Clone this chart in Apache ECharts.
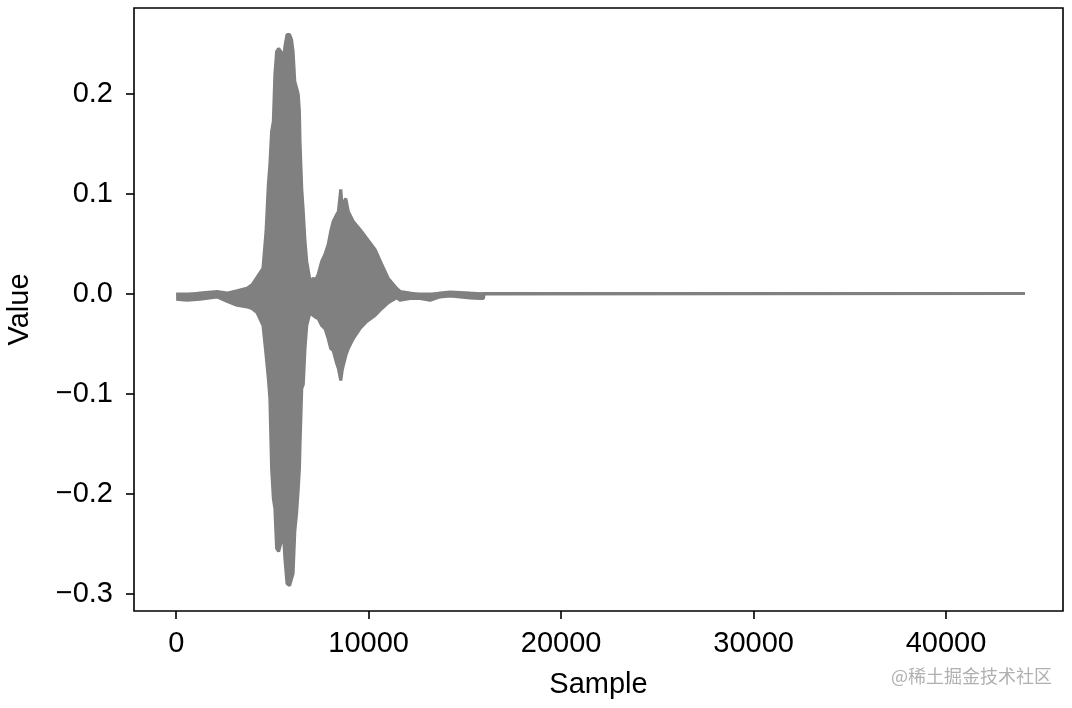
<!DOCTYPE html>
<html>
<head>
<meta charset="utf-8">
<script src="https://cdn.jsdelivr.net/npm/echarts@6/dist/echarts.min.js"></script>
<style>
html,body{margin:0;padding:0;background:#fff;}
#chart{width:1072px;height:708px;}
</style>
</head>
<body>
<div id="chart"></div>
<script>
// Waveform envelope: sample index, upper edge, lower edge
const samples = [0, 560, 1240, 2120, 2640, 3160, 3680, 3940, 4200, 4510, 4670, 4790, 4870, 4960, 5050, 5130, 5220, 5320, 5420, 5500, 5580, 5650, 5760, 5890, 5990, 6070, 6160, 6260, 6340, 6400, 6430, 6520, 6600, 6690, 6780, 6950, 7120, 7260, 7380, 7560, 7730, 7900, 8030, 8160, 8340, 8430, 8550, 8620, 8680, 8810, 8940, 9200, 9550, 9900, 10330, 10680, 11020, 11460, 11630, 12150, 12670, 13190, 13710, 14230, 14750, 15270, 15790, 15960, 16000, 44099];
const upper = [-0.0013, -0.0013, 0.0003, 0.002, 0.0003, 0.0027, 0.0053, 0.0087, 0.016, 0.025, 0.062, 0.109, 0.129, 0.162, 0.172, 0.219, 0.242, 0.245, 0.246, 0.240, 0.235, 0.247, 0.259, 0.259, 0.254, 0.242, 0.212, 0.205, 0.199, 0.182, 0.152, 0.105, 0.082, 0.052, 0.032, 0.013, 0.015, 0.014, 0.019, 0.032, 0.039, 0.049, 0.062, 0.072, 0.079, 0.082, 0.104, 0.087, 0.085, 0.095, 0.082, 0.072, 0.064, 0.055, 0.044, 0.029, 0.015, 0.005, 0.002, 0.0003, -0.0013, -0.0013, 0.0003, 0.0013, 0.001, 0.0003, -0.0003, -0.0003, 0, 0];
const lower = [-0.0057, -0.0067, -0.0057, -0.0033, -0.0077, -0.0117, -0.0133, -0.015, -0.019, -0.0317, -0.061, -0.085, -0.105, -0.175, -0.205, -0.215, -0.255, -0.258, -0.258, -0.245, -0.242, -0.265, -0.290, -0.292, -0.290, -0.280, -0.238, -0.218, -0.195, -0.175, -0.152, -0.095, -0.091, -0.055, -0.032, -0.019, -0.022, -0.024, -0.025, -0.032, -0.035, -0.045, -0.055, -0.057, -0.070, -0.075, -0.087, -0.077, -0.072, -0.062, -0.055, -0.045, -0.035, -0.028, -0.022, -0.015, -0.009, -0.004, -0.0067, -0.005, -0.005, -0.0067, -0.0033, -0.0023, -0.0033, -0.0043, -0.005, -0.005, 0, 0];
const xTicks = [0, 10000, 20000, 30000, 40000];
const yTicks = [-0.3, -0.2, -0.1, 0.0, 0.1, 0.2];
const xTitle = 'Sample';
const yTitle = 'Value';
const watermark = '@稀土掘金技术社区';

const FONT = 'Liberation Sans';
const GRAY = '#808080';
const upperData = samples.map((s, i) => [s, upper[i]]);
const lowerData = samples.map((s, i) => [s, lower[i]]);

const chart = echarts.init(document.getElementById('chart'), null, {renderer: 'canvas'});
const fmtY = v => (v < 0 ? '\u2212' : '') + Math.abs(v).toFixed(1);

chart.setOption({
  animation: false,
  backgroundColor: '#fff',
  grid: {left: 134, top: 8, width: 929, height: 603, containLabel: false, outerBoundsMode: 'none',
         show: true, borderColor: '#000', borderWidth: 1.6, backgroundColor: 'transparent'},
  xAxis: {
    type: 'value', min: -2193, max: 46078,
    name: xTitle, nameLocation: 'middle', nameGap: 59,
    nameTextStyle: {fontFamily: FONT, fontSize: 29, color: '#000'},
    axisLine: {show: false, onZero: false},
    splitLine: {show: false},
    axisTick: {show: true, length: 8, lineStyle: {color: '#000', width: 1.6}, customValues: xTicks},
    axisLabel: {customValues: xTicks, margin: 18, fontFamily: FONT, fontSize: 29, color: '#000', formatter: v => String(v)}
  },
  yAxis: {
    type: 'value', min: -0.3175, max: 0.2855,
    name: yTitle, nameLocation: 'middle', nameGap: 100, nameRotate: 90,
    nameTextStyle: {fontFamily: FONT, fontSize: 29, color: '#000'},
    axisLine: {show: false, onZero: false},
    splitLine: {show: false},
    axisTick: {show: true, length: 8, lineStyle: {color: '#000', width: 1.6}, customValues: yTicks},
    axisLabel: {customValues: yTicks, margin: 21, fontFamily: FONT, fontSize: 29, color: '#000', formatter: fmtY}
  },
  series: [
    {
      type: 'line', name: 'upper', data: upperData, showSymbol: false, symbol: 'none',
      lineStyle: {color: GRAY, width: 3.2}, areaStyle: {color: GRAY, opacity: 1, origin: -0.001},
      itemStyle: {color: GRAY}, z: 2
    },
    {
      type: 'line', name: 'lower', data: lowerData, showSymbol: false, symbol: 'none',
      lineStyle: {color: GRAY, width: 3.2}, areaStyle: {color: GRAY, opacity: 1, origin: 0.001},
      itemStyle: {color: GRAY}, z: 2
    }
  ],
  graphic: [{
    type: 'text', right: 20, top: 667,
    style: {text: watermark, fontFamily: 'Noto Sans CJK SC', fontSize: 18, fill: '#b0b0b0'}
  }]
});
</script>
</body>
</html>
